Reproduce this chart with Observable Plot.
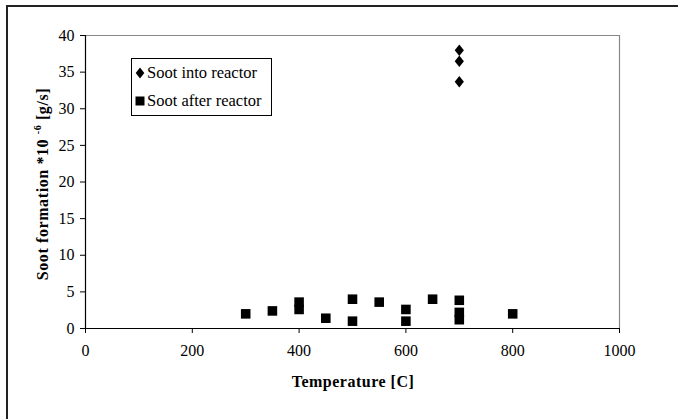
<!DOCTYPE html>
<html>
<head>
<meta charset="utf-8">
<script src="https://cdn.jsdelivr.net/npm/d3@7"></script>
<script src="https://cdn.jsdelivr.net/npm/@observablehq/plot@0.6"></script>
<style>
  html, body { margin: 0; padding: 0; background: #fff; }
  #wrap { position: relative; width: 678px; height: 419px; overflow: hidden; }
  #frame { position: absolute; left: 6px; top: 5px; width: 700px; height: 440px;
           border-left: 2px solid #222; border-top: 2px solid #222; box-sizing: border-box; }
  #legend { position: absolute; left: 131px; top: 58px; width: 141px; height: 58px;
            border: 1px solid #000; box-sizing: border-box; background: #fff;
            font-family: "Liberation Serif", "Times New Roman", serif; font-size: 16.5px; color: #000; }
  #legend .row { position: absolute; left: 3px; height: 18px; line-height: 18px; white-space: nowrap; }
  #legend svg { vertical-align: -1px; margin-right: 2px; }
</style>
</head>
<body>
<div id="wrap">
  <div id="frame"></div>
  <div id="chart"></div>
  <div id="legend"></div>
</div>
<script>
// Soot into reactor (diamonds)
const intoTemp = [700, 700, 700];
const intoSoot = [38.0, 36.5, 33.7];
// Soot after reactor (squares)
const afterTemp = [300, 350, 400, 400, 450, 500, 500, 550, 600, 600, 650, 700, 700, 700, 800];
const afterSoot = [2.0, 2.4, 3.6, 2.6, 1.4, 4.0, 1.0, 3.6, 2.6, 1.0, 4.0, 3.85, 2.2, 1.2, 2.0];
const seriesNames = ["Soot into reactor", "Soot after reactor"];
const xTicks = [0, 200, 400, 600, 800, 1000];
const yTicks = [0, 5, 10, 15, 20, 25, 30, 35, 40];

const intoData = intoTemp.map((t, i) => ({t, v: intoSoot[i]}));
const afterData = afterTemp.map((t, i) => ({t, v: afterSoot[i]}));

const tallDiamond = {
  draw(ctx, size) {
    const h = Math.sqrt(size) * 0.9;
    const w = h * 0.8;
    ctx.moveTo(0, -h); ctx.lineTo(w, 0); ctx.lineTo(0, h); ctx.lineTo(-w, 0); ctx.closePath();
  }
};

const serif = '"Liberation Serif", "Times New Roman", serif';

const chart = Plot.plot({
  width: 678,
  height: 419,
  marginLeft: 85,
  marginRight: 59,
  marginTop: 35,
  marginBottom: 91,
  style: { fontFamily: serif, fontSize: "16px", color: "#000", background: "transparent", overflow: "visible" },
  x: { domain: [0, 1000], ticks: xTicks, tickSize: 5, tickPadding: 11, tickFormat: d => String(d), label: null },
  y: { domain: [0, 40], ticks: yTicks, tickSize: 5, tickPadding: 6, tickFormat: d => String(d), label: null },
  marks: [
    Plot.ruleY([40], { stroke: "#888", strokeWidth: 1.2 }),
    Plot.ruleX([1000], { stroke: "#888", strokeWidth: 1.2 }),
    Plot.ruleX([0], { stroke: "#000", strokeWidth: 1.2 }),
    Plot.ruleY([0], { stroke: "#000", strokeWidth: 1.2 }),
    Plot.dot(afterData, { x: "t", y: "v", symbol: "square", r: 5.4, fill: "#000", stroke: "none" }),
    Plot.dot(intoData, { x: "t", y: "v", symbol: tallDiamond, r: 3.6, fill: "#000", stroke: "none" })
  ]
});
document.getElementById("chart").appendChild(chart);

const svg = d3.select(chart);
svg.append("text")
  .attr("x", 353).attr("y", 387)
  .attr("text-anchor", "middle")
  .attr("font-family", serif).attr("font-weight", "bold").attr("font-size", 16)
  .attr("letter-spacing", "0.5px")
  .text("Temperature [C]");

const yt = svg.append("text")
  .attr("transform", "translate(48,184) rotate(-90)")
  .attr("text-anchor", "middle")
  .attr("font-family", serif).attr("font-weight", "bold").attr("font-size", 16)
  .attr("letter-spacing", "0.6px");
yt.append("tspan").text("Soot formation *10 ");
yt.append("tspan").attr("font-size", 10).attr("dy", -7).text("-6");
yt.append("tspan").attr("dy", 7).text(" [g/s]");

// legend
const legend = document.getElementById("legend");
const symbols = [
  '<svg width="10" height="12" viewBox="-5 -6 10 12"><path d="M0,-5.4L4.3,0L0,5.4L-4.3,0Z" fill="#000"/></svg>',
  '<svg width="10" height="12" viewBox="-5 -6 10 12"><rect x="-4.5" y="-4.5" width="9" height="9" fill="#000"/></svg>'
];
seriesNames.forEach((name, i) => {
  const row = document.createElement("div");
  row.className = "row";
  row.style.top = (i === 0 ? 5 : 33) + "px";
  row.innerHTML = symbols[i] + name;
  legend.appendChild(row);
});
</script>
</body>
</html>
